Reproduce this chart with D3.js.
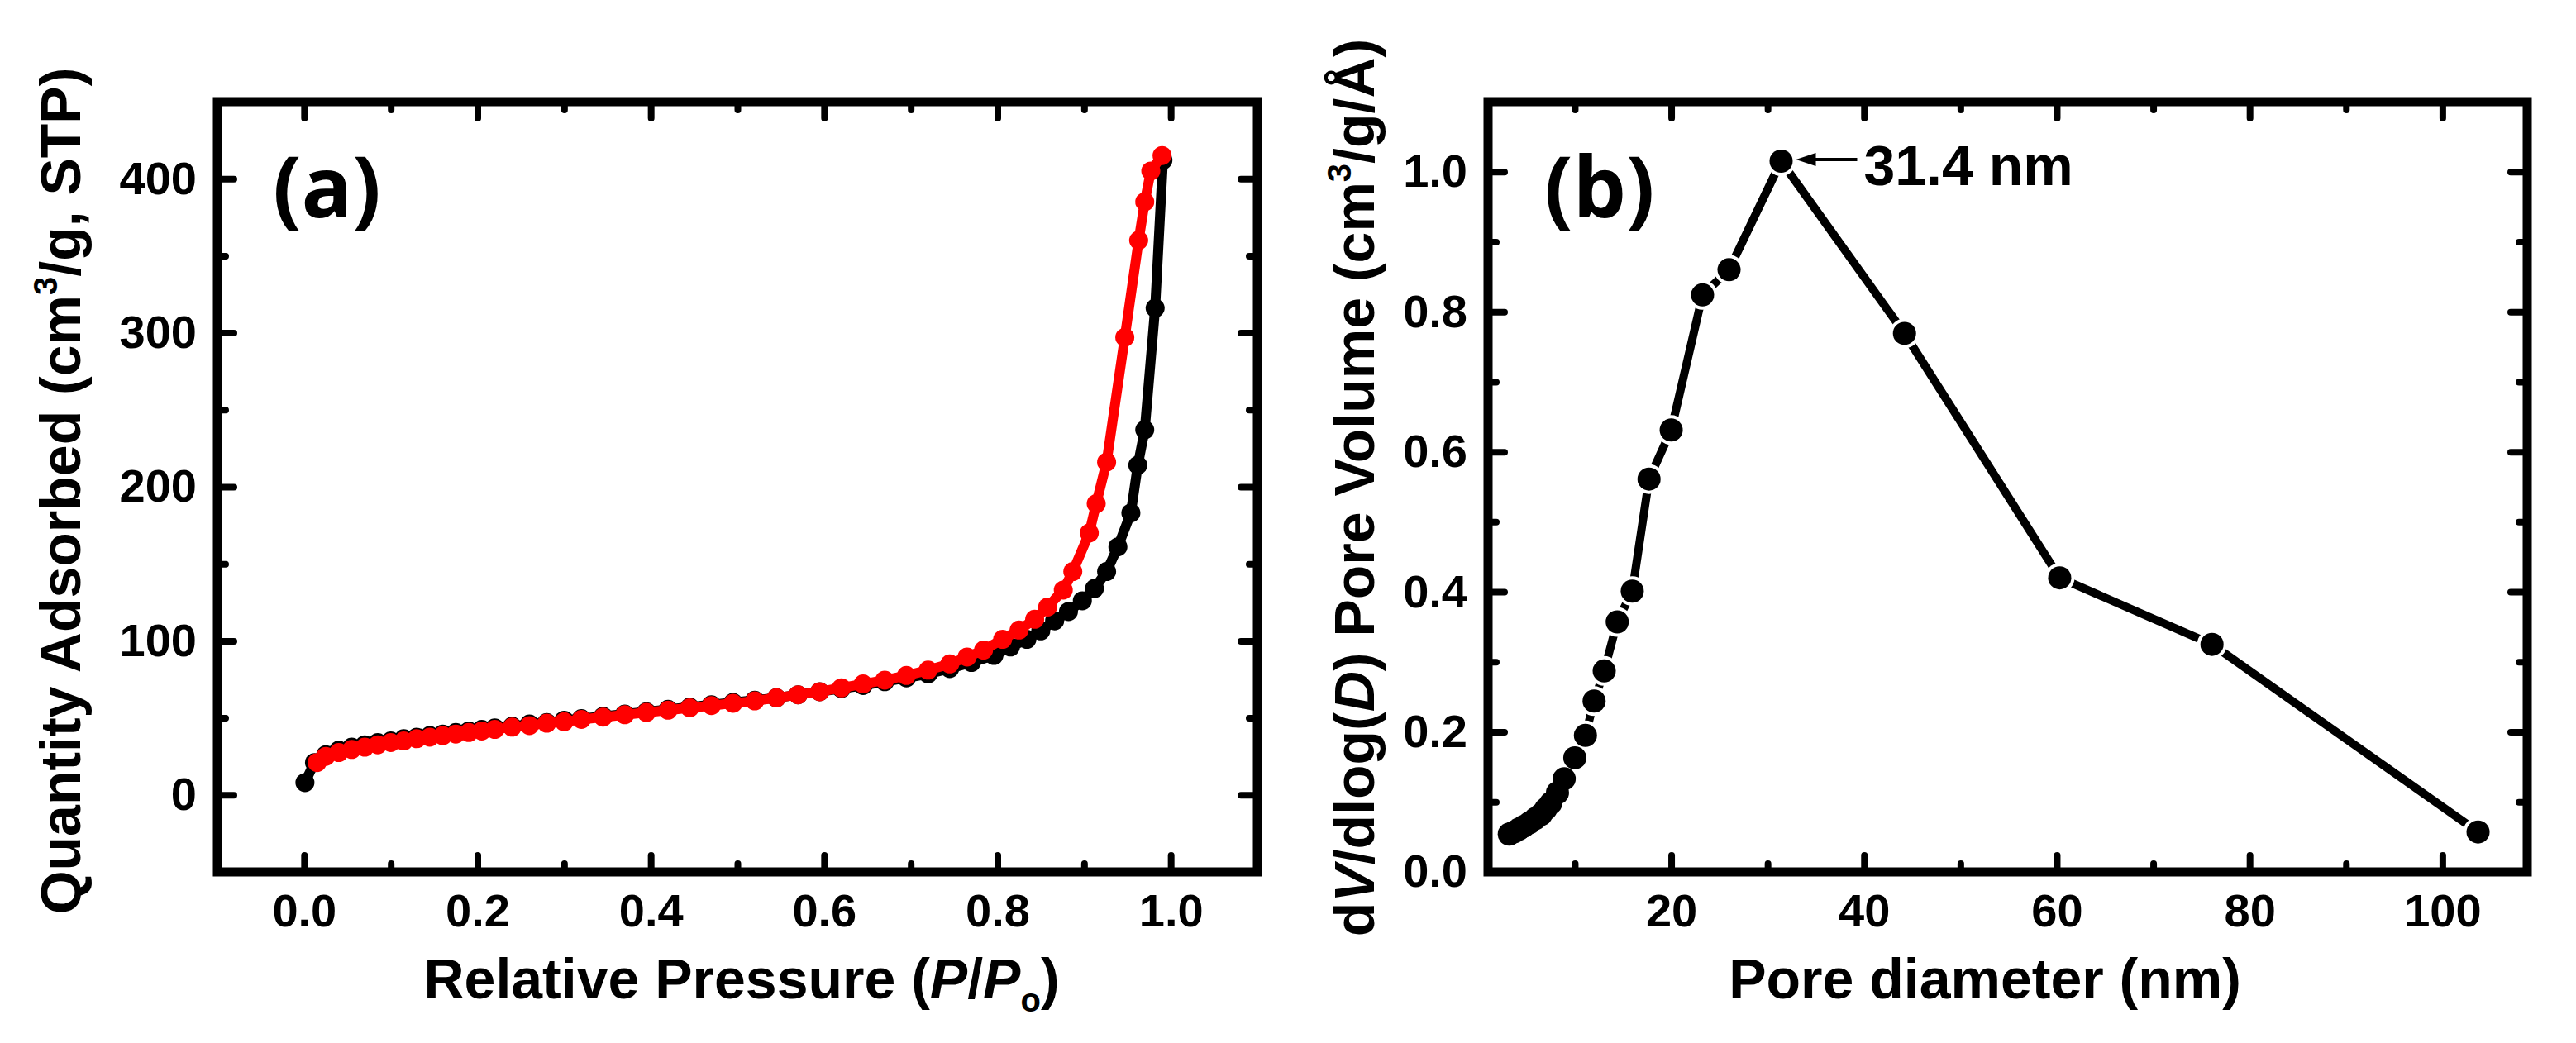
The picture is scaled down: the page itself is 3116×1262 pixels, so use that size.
<!DOCTYPE html>
<html><head><meta charset="utf-8">
<script src="https://cdn.jsdelivr.net/npm/d3@7"></script>
<style>
body{margin:0;background:#fff}
svg{display:block}
text{font-family:"Liberation Sans",Arial,sans-serif;font-weight:bold}
</style>
</head><body>
<svg id="c" width="3116" height="1262"></svg>
<script>
// ---------- data: panel (a) N2 isotherm ----------
const adsP = [0.001,0.012,0.025,0.04,0.055,0.07,0.085,0.1,0.115,0.13,0.145,0.16,0.175,0.19,0.205,0.22,0.24,0.26,0.28,0.30,0.32,0.345,0.37,0.395,0.42,0.445,0.47,0.495,0.52,0.545,0.57,0.595,0.62,0.645,0.67,0.695,0.72,0.745,0.77,0.796,0.815,0.834,0.850,0.866,0.882,0.898,0.912,0.926,0.939,0.954,0.962,0.970,0.982,0.991];
const adsQ = [8,21,26,29,31,32.5,34,35,36.5,37.5,38.5,39.5,40.5,41.5,42.5,43.5,44.5,46,47,48.5,49.5,51,52.5,54,55.5,57,58.5,60,61.5,63,65,67,69,71,73.5,76,78.5,82,86,90.5,96,101,106.5,113,119,126,134,145,161,183,214,237,316,412];
const desP = [0.990,0.977,0.970,0.963,0.947,0.926,0.914,0.906,0.887,0.876,0.858,0.843,0.825,0.806,0.784,0.765,0.745,0.72,0.695,0.67,0.645,0.62,0.595,0.57,0.545,0.52,0.495,0.47,0.445,0.42,0.395,0.37,0.345,0.32,0.30,0.28,0.26,0.24,0.22,0.205,0.19,0.175,0.16,0.145,0.13,0.115,0.1,0.085,0.07,0.055,0.04,0.025,0.015];
const desQ = [415,405,385,360,297,216,189,170,145,133,122,114,107,101,94,89.5,85,81,77.5,74.5,72,69.5,67,65,63,61,59.5,58,56.5,55,53.5,52,50.5,49,47.5,46.5,45,44,42.5,41.5,40.5,39.5,38.5,37.5,36.5,35,34,32.5,31,29.5,27.5,25,21];
// ---------- data: panel (b) pore size distribution ----------
const poreD = [3.2,3.7,4.2,4.7,5.3,5.9,6.5,7.0,7.5,8.2,8.9,10.0,11.1,12.0,13.05,14.4,15.96,17.7,20.0,23.25,26.0,31.4,44.2,60.3,76.1,103.7];
const poreV = [0.054,0.057,0.061,0.065,0.070,0.076,0.082,0.090,0.098,0.113,0.133,0.163,0.195,0.244,0.287,0.357,0.401,0.561,0.631,0.824,0.860,1.015,0.769,0.420,0.325,0.057];
const peakLabel = "31.4 nm";
const peakIndex = 21;
// ---------- ticks ----------
const aXMajor = [0,0.2,0.4,0.6,0.8,1.0], aXMinor = [0.1,0.3,0.5,0.7,0.9];
const aYMajor = [0,100,200,300,400],     aYMinor = [50,150,250,350];
const bXMajor = [20,40,60,80,100],       bXMinor = [10,30,50,70,90];
const bYMajor = [0,0.2,0.4,0.6,0.8,1.0], bYMinor = [0.1,0.3,0.5,0.7,0.9];
const aXDomain = [-0.1,1.1], aYDomain = [-50,450];
const bXDomain = [1,108.8],  bYDomain = [0,1.1];

const svg = d3.select('#c');
const boxA = {x0:263,x1:1521,y0:123,y1:1055};
const boxB = {x0:1800,x1:3057,y0:123,y1:1055};

const xA = d3.scaleLinear().domain(aXDomain).range([boxA.x0,boxA.x1]);
const yA = d3.scaleLinear().domain(aYDomain).range([boxA.y1,boxA.y0]);
const xB = d3.scaleLinear().domain(bXDomain).range([boxB.x0,boxB.x1]);
const yB = d3.scaleLinear().domain(bYDomain).range([boxB.y1,boxB.y0]);

function axisPart(gen, scale, ticks, size, fmt, tr, pad){
  const a = svg.append('g').attr('transform',tr)
    .call(gen(scale).tickValues(ticks).tickSizeInner(size).tickSizeOuter(0)
      .tickPadding(pad).tickFormat(fmt || (()=>'')));
  a.select('.domain').remove();
  a.attr('font-size',56).attr('font-family',null);
  a.selectAll('line').attr('stroke','#000').attr('stroke-width',8).attr('stroke-linecap','round');
  a.selectAll('text').attr('fill','#000');
  return a;
}
function drawFrame(box,x,y,xMaj,xMin,yMaj,yMin,xf,yf){
  const b = `translate(0,${box.y1})`, t = `translate(0,${box.y0})`;
  const l = `translate(${box.x0},0)`, r = `translate(${box.x1},0)`;
  axisPart(d3.axisBottom,x,xMaj,-20,xf,b,26);
  axisPart(d3.axisBottom,x,xMin,-10,null,b,26);
  axisPart(d3.axisTop,x,xMaj,-20,null,t,26);
  axisPart(d3.axisTop,x,xMin,-10,null,t,26);
  axisPart(d3.axisLeft,y,yMaj,-20,yf,l,25);
  axisPart(d3.axisLeft,y,yMin,-10,null,l,25);
  axisPart(d3.axisRight,y,yMaj,-20,null,r,25);
  axisPart(d3.axisRight,y,yMin,-10,null,r,25);
  svg.append('rect').attr('x',box.x0).attr('y',box.y0)
    .attr('width',box.x1-box.x0).attr('height',box.y1-box.y0)
    .attr('fill','none').attr('stroke','#000').attr('stroke-width',11);
}
drawFrame(boxA,xA,yA,aXMajor,aXMinor,aYMajor,aYMinor,d3.format('.1f'),d3.format('d'));
drawFrame(boxB,xB,yB,bXMajor,bXMinor,bYMajor,bYMinor,d3.format('d'),d3.format('.1f'));

// ---------- panel (a) series ----------
function series(px,py,xs,ys,color,lw,r){
  const pts = px.map((p,i)=>[xs(p),ys(py[i])]);
  svg.append('path').attr('d',d3.line()(pts)).attr('fill','none')
    .attr('stroke',color).attr('stroke-width',lw).attr('stroke-linejoin','round');
  svg.append('g').selectAll('circle').data(pts).join('circle')
    .attr('cx',d=>d[0]).attr('cy',d=>d[1]).attr('r',r).attr('fill',color);
}
series(adsP,adsQ,xA,yA,'#000',12,11.5);
series(desP,desQ,xA,yA,'#ff0000',12,11.5);

// ---------- panel (b) series with gap to symbol ----------
{
  const pts = poreD.map((d,i)=>[xB(d),yB(poreV[i])]);
  svg.append('path').attr('d',d3.line()(pts)).attr('fill','none')
    .attr('stroke','#000').attr('stroke-width',10).attr('stroke-linejoin','round');
  svg.append('g').selectAll('circle').data(pts).join('circle')
    .attr('cx',d=>d[0]).attr('cy',d=>d[1]).attr('r',18).attr('fill','#fff');
  svg.append('g').selectAll('circle').data(pts).join('circle')
    .attr('cx',d=>d[0]).attr('cy',d=>d[1]).attr('r',14).attr('fill','#000');
  // arrow annotation
  const px = xB(poreD[peakIndex]), py = yB(poreV[peakIndex]) - 2;
  const tip = px + 18;
  svg.append('line').attr('x1',tip+18).attr('y1',py).attr('x2',tip+74).attr('y2',py)
    .attr('stroke','#000').attr('stroke-width',4);
  svg.append('path').attr('d',`M${tip},${py} L${tip+24},${py-8} L${tip+24},${py+8} Z`).attr('fill','#000');
  svg.append('text').attr('x',tip+82).attr('y',py+31).attr('font-size',68).text(peakLabel);
}

// ---------- panel labels ----------
svg.append('text').attr('x',330).attr('y',263).attr('font-size',102)
  .style('font-family','"Open Sans","Noto Sans",sans-serif').text('(a)');
svg.append('text').attr('x',1868).attr('y',263).attr('font-size',102)
  .style('font-family','"Open Sans","Noto Sans",sans-serif').text('(b)');

// ---------- axis titles ----------
{
  const t = svg.append('text').attr('x',897).attr('y',1208).attr('font-size',68).attr('text-anchor','middle');
  t.append('tspan').text('Relative Pressure (');
  t.append('tspan').attr('font-style','italic').text('P');
  t.append('tspan').text('/');
  t.append('tspan').attr('font-style','italic').text('P');
  t.append('tspan').attr('font-size',40).attr('dy',16).text('o');
  t.append('tspan').attr('dy',-16).text(')');
}
svg.append('text').attr('x',2401).attr('y',1208).attr('font-size',68).attr('text-anchor','middle')
  .text('Pore diameter (nm)');
{
  const t = svg.append('text').attr('transform','translate(97,594) rotate(-90)')
    .attr('font-size',68).attr('text-anchor','middle');
  t.append('tspan').text('Quantity Adsorbed (cm');
  t.append('tspan').attr('font-size',40).attr('dy',-28).text('3');
  t.append('tspan').attr('dy',28).text('/g, STP)');
}
{
  const t = svg.append('text').attr('transform','translate(1662,590) rotate(-90)')
    .attr('font-size',68).attr('text-anchor','middle');
  t.append('tspan').text('d');
  t.append('tspan').attr('font-style','italic').text('V');
  t.append('tspan').text('/dlog(');
  t.append('tspan').attr('font-style','italic').text('D');
  t.append('tspan').text(') Pore Volume (cm');
  t.append('tspan').attr('font-size',40).attr('dy',-28).text('3');
  t.append('tspan').attr('dy',28).text('/g/Å)');
}
</script>
</body></html>
